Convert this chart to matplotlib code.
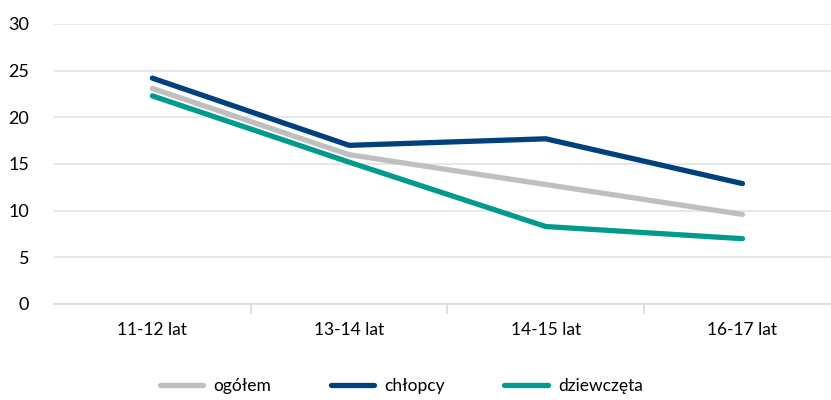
import matplotlib
matplotlib.use("Agg")
import matplotlib.pyplot as plt

categories = ["11-12 lat", "13-14 lat", "14-15 lat", "16-17 lat"]
ogolem = [23.1, 16.0, 12.8, 9.6]
chlopcy = [24.2, 17.0, 17.7, 12.9]
dziewczeta = [22.3, 15.2, 8.3, 7.0]

plt.rcParams["font.family"] = ["Lato", "DejaVu Sans"]

fig = plt.figure(figsize=(8.31, 4.0), dpi=100)
ax = fig.add_axes([54 / 831, 1 - 304 / 400, 1 - 54 / 831, 280 / 400])

x = range(len(categories))
series = [
    ("ogółem", ogolem, "#BFBFBF"),
    ("chłopcy", chlopcy, "#00407F"),
    ("dziewczęta", dziewczeta, "#009B8C"),
]
for label, vals, col in series:
    ax.plot(x, vals, color=col, lw=3.8, solid_capstyle="round",
            solid_joinstyle="round", label=label)

ax.set_ylim(0, 30)
ax.set_yticks(range(0, 31, 5))
ax.set_xlim(-0.5, 3.45)
ax.set_xticks(list(x))
ax.set_xticklabels(categories)
ax.set_xticks([0.5, 1.5, 2.5], minor=True)
ax.grid(axis="y", color="#E3E3E3", lw=1.2)
ax.set_axisbelow(True)
for s in ["top", "right", "left"]:
    ax.spines[s].set_visible(False)
ax.spines["bottom"].set_color("#DADADA")
ax.spines["bottom"].set_linewidth(1.2)
ax.tick_params(axis="y", length=0, labelsize=13, pad=18)
ax.tick_params(axis="x", which="major", length=0, labelsize=12.5, pad=13)
ax.tick_params(axis="x", which="minor", length=7, color="#DADADA", width=1.2)

leg = fig.legend(loc="center", bbox_to_anchor=(0.483, 1 - 386 / 400), ncol=3,
                 frameon=False, fontsize=12.5, handlelength=2.5,
                 columnspacing=3.4, handletextpad=0.6)
plt.savefig("out.png", dpi=100)
